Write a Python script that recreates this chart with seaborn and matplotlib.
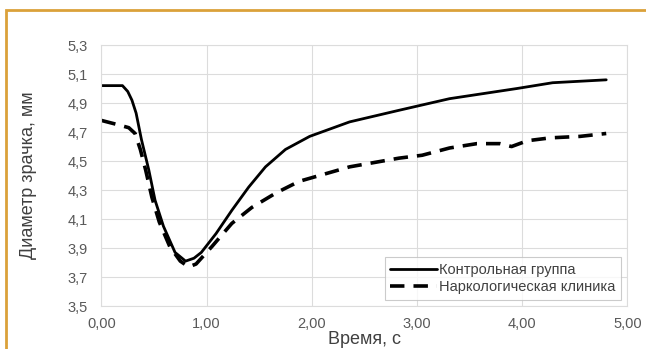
import pandas as pd
import matplotlib
matplotlib.use('Agg')
import matplotlib.pyplot as plt
import seaborn as sns
from matplotlib.ticker import FuncFormatter

# Данные
t_control = [0, 0.10, 0.20, 0.25, 0.29, 0.33, 0.38, 0.45, 0.51, 0.59, 0.70, 0.80, 0.88, 0.95,
             1.09, 1.24, 1.40, 1.56, 1.75, 1.98, 2.36, 2.83, 3.31, 3.95, 4.29, 4.80]
d_control = [5.02, 5.02, 5.02, 4.98, 4.92, 4.83, 4.65, 4.44, 4.23, 4.05, 3.87, 3.81, 3.83, 3.87,
             4.00, 4.16, 4.32, 4.46, 4.58, 4.67, 4.77, 4.85, 4.93, 5.00, 5.04, 5.06]

t_clinic = [0, 0.16, 0.26, 0.32, 0.37, 0.42, 0.48, 0.55, 0.65, 0.75, 0.83, 0.90, 1.05,
            1.24, 1.43, 1.66, 1.88, 2.36, 2.83, 3.05, 3.31, 3.57, 3.79, 3.90, 4.05, 4.27,
            4.55, 4.80]
d_clinic = [4.78, 4.75, 4.73, 4.69, 4.58, 4.44, 4.25, 4.08, 3.91, 3.81, 3.77, 3.79, 3.91,
            4.07, 4.18, 4.28, 4.36, 4.46, 4.52, 4.54, 4.59, 4.62, 4.62, 4.60, 4.64, 4.66,
            4.67, 4.69]

x_ticks = [0, 1, 2, 3, 4, 5]
y_ticks = [3.5, 3.7, 3.9, 4.1, 4.3, 4.5, 4.7, 4.9, 5.1, 5.3]

label_control = 'Контрольная группа'
label_clinic = 'Наркологическая клиника'

df_control = pd.DataFrame({'t': t_control, 'd': d_control})
df_clinic = pd.DataFrame({'t': t_clinic, 'd': d_clinic})

sns.set_style('white')
plt.rcParams['font.family'] = ['Liberation Sans', 'DejaVu Sans']

fig = plt.figure(figsize=(6.46, 3.49), dpi=100)
ax = fig.add_axes([0.157, 0.123, 0.814, 0.748])

sns.lineplot(data=df_control, x='t', y='d', ax=ax, color='black', lw=2,
             label=label_control, sort=False)
sns.lineplot(data=df_clinic, x='t', y='d', ax=ax, color='black', lw=2.6,
             label=label_clinic, sort=False)
ax.lines[1].set_dashes([4, 2.5])

ax.set_xlim(0, 5)
ax.set_ylim(3.5, 5.3)
ax.set_xticks(x_ticks)
ax.set_yticks(y_ticks)
ax.xaxis.set_major_formatter(FuncFormatter(lambda v, p: f'{v:.2f}'.replace('.', ',')))
ax.yaxis.set_major_formatter(FuncFormatter(lambda v, p: f'{v:.1f}'.replace('.', ',')))
ax.tick_params(labelsize=10.5, labelcolor='#595959', length=0)
ax.tick_params(axis='y', pad=10)
ax.tick_params(axis='x', pad=8)

ax.grid(True, color='#dcdcdc', lw=0.8)
for s in ax.spines.values():
    s.set_color('#dcdcdc')
    s.set_linewidth(0.8)

ax.set_xlabel('Время, с', fontsize=13, color='#404040', labelpad=0)
ax.set_ylabel('Диаметр зрачка, мм', fontsize=13, color='#404040', labelpad=22)

leg = ax.legend(loc='lower right', fontsize=10.5, frameon=True, fancybox=False,
                edgecolor='#bfbfbf', handlelength=3.2, borderaxespad=0.4,
                labelspacing=0.25, handletextpad=0.15, borderpad=0.4)
leg.get_frame().set_linewidth(0.8)
for txt in leg.get_texts():
    txt.set_color('#404040')

# оранжевая рамка вокруг рисунка
fig.add_artist(plt.Rectangle((6 / 646, -0.1), 1.2, 1 - 10 / 349 + 0.1,
                             transform=fig.transFigure, fill=False,
                             edgecolor='#dba13a', lw=2))

fig.savefig('out.png', dpi=100)
